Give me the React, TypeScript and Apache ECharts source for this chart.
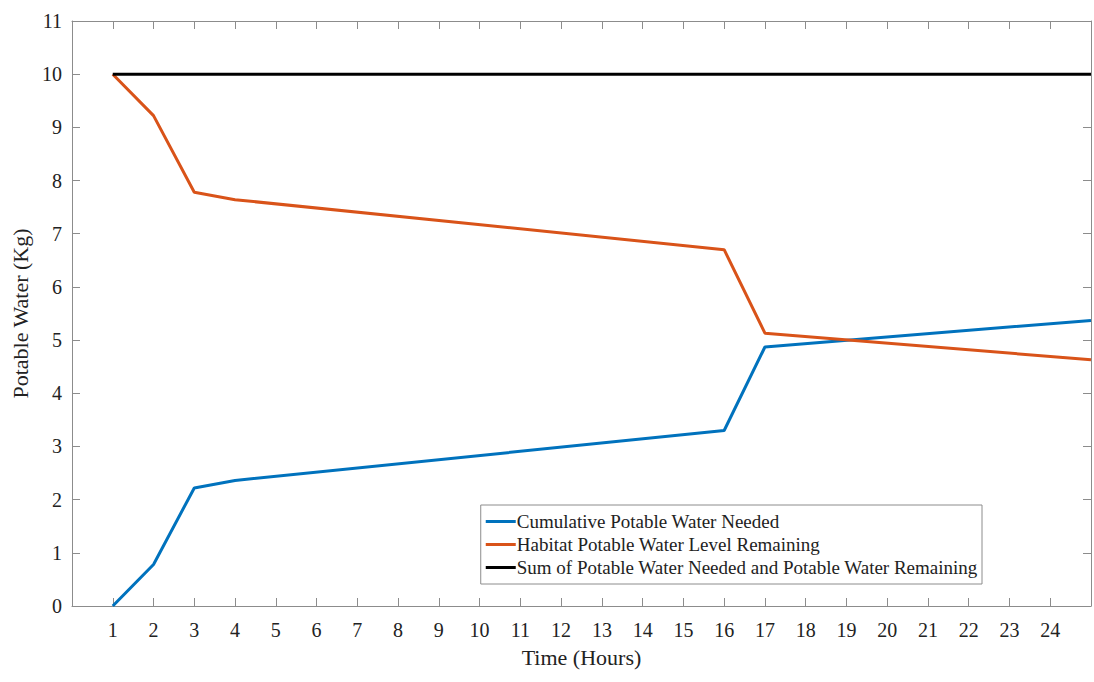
import React, { useEffect, useRef } from "react";
import * as echarts from "echarts";

const hours = [1, 2, 3, 4, 16, 17, 25];
const needed = [0, 0.78, 2.22, 2.36, 3.3, 4.87, 5.37];
const remaining = [10, 9.22, 7.78, 7.64, 6.7, 5.13, 4.63];
const sumHours = [1, 25];
const sumValues = [10, 10];
const seriesNames = [
  "Cumulative Potable Water Needed",
  "Habitat Potable Water Level Remaining",
  "Sum of Potable Water Needed and Potable Water Remaining",
];
const colors = ["#0072BD", "#D95319", "#000000"];

const FONT = "Times New Roman, Liberation Serif, DejaVu Serif, serif";

export default function App() {
  const ref = useRef<HTMLDivElement>(null);
  useEffect(() => {
    if (!ref.current) return;
    const chart = echarts.init(ref.current, undefined, { renderer: "svg" });
    const axisLine = { show: true, onZero: false, lineStyle: { color: "#8c8c8c", width: 1 } };
    const tickStyle = { show: true, inside: true, length: 8, lineStyle: { color: "#8c8c8c", width: 1 } };
    chart.setOption({
      animation: false,
      backgroundColor: "#fff",
      textStyle: { fontFamily: FONT },
      grid: { left: 72, right: 2, top: 21, bottom: 76, containLabel: false },
      legend: {
        data: seriesNames.map((n) => ({ name: n, icon: "rect" })),
        orient: "vertical",
        right: 112,
        top: 505,
        itemGap: 4,
        itemWidth: 30,
        itemHeight: 3,
        padding: [7, 4, 7, 5],
        borderColor: "#8c8c8c",
        borderWidth: 1,
        backgroundColor: "#fff",
        textStyle: { fontFamily: FONT, fontSize: 19, color: "#222", padding: [0, 0, 0, -4], lineHeight: 19 },
      },
      xAxis: [
        {
          type: "value",
          min: 0,
          max: 25,
          interval: 1,
          name: "Time (Hours)",
          nameLocation: "middle",
          nameGap: 40,
          nameTextStyle: { fontFamily: FONT, fontSize: 22, color: "#222" },
          axisLine,
          axisTick: tickStyle,
          splitLine: { show: false },
          axisLabel: {
            fontFamily: FONT,
            fontSize: 20,
            color: "#222",
            margin: 14,
            formatter: (v: number) => (v >= 1 && v <= 24 ? String(v) : ""),
          },
        },
        {
          type: "value",
          position: "top",
          min: 0,
          max: 25,
          interval: 1,
          axisLine,
          axisTick: tickStyle,
          axisLabel: { show: false },
          splitLine: { show: false },
        },
      ],
      yAxis: [
        {
          type: "value",
          min: 0,
          max: 11,
          interval: 1,
          name: "Potable Water (Kg)",
          nameLocation: "middle",
          nameGap: 35,
          nameTextStyle: { fontFamily: FONT, fontSize: 22, color: "#222" },
          axisLine,
          axisTick: tickStyle,
          splitLine: { show: false },
          axisLabel: { fontFamily: FONT, fontSize: 20, color: "#222", margin: 10 },
        },
        {
          type: "value",
          position: "right",
          min: 0,
          max: 11,
          interval: 1,
          axisLine,
          axisTick: tickStyle,
          axisLabel: { show: false },
          splitLine: { show: false },
        },
      ],
      series: [
        {
          name: seriesNames[0],
          type: "line",
          data: hours.map((h, i) => [h, needed[i]]),
          symbol: "none",
          lineStyle: { color: colors[0], width: 3 },
          itemStyle: { color: colors[0] },
        },
        {
          name: seriesNames[1],
          type: "line",
          data: hours.map((h, i) => [h, remaining[i]]),
          symbol: "none",
          lineStyle: { color: colors[1], width: 3 },
          itemStyle: { color: colors[1] },
        },
        {
          name: seriesNames[2],
          type: "line",
          data: sumHours.map((h, i) => [h, sumValues[i]]),
          symbol: "none",
          lineStyle: { color: colors[2], width: 3 },
          itemStyle: { color: colors[2] },
        },
      ],
    });
    return () => chart.dispose();
  }, []);
  return (
    <div
      ref={ref}
      style={{ position: "fixed", left: 0, top: 0, width: 1094, height: 682, background: "#fff" }}
    />
  );
}
